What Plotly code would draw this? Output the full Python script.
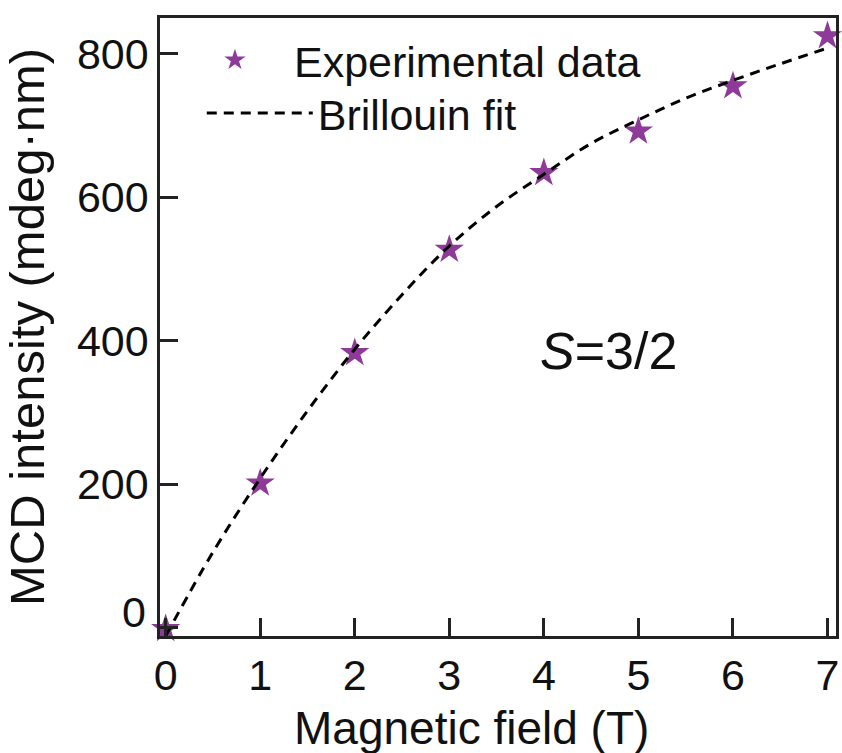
import plotly.graph_objects as go

# Data
field_exp = [0, 1, 2, 3, 4, 5, 6, 7]
mcd_exp = [-2, 201, 383, 527, 634, 692, 755, 825]

field_fit = [0, 0.5, 1, 1.5, 2, 2.5, 3, 3.5, 4, 4.5, 5, 5.5, 6, 6.5, 7]
mcd_fit = [-12, 105, 208, 302, 388, 464, 532, 587, 632, 675, 708, 738, 763, 786, 808]

x_ticks = [0, 1, 2, 3, 4, 5, 6, 7]
y_ticks = [0, 200, 400, 600, 800]
y_ticktext = ["", "200", "400", "600", "800"]

FONT = "Liberation Sans, Arial, sans-serif"
PURPLE = "#8E3A98"

fig = go.Figure()
fig.add_trace(go.Scatter(
    x=field_exp, y=mcd_exp, mode="markers", name="Experimental data",
    marker=dict(symbol="star", size=22, color=PURPLE, line=dict(width=0)),
    cliponaxis=False, legend="legend",
))
fig.add_trace(go.Scatter(
    x=field_fit, y=mcd_fit, mode="lines", name="Brillouin fit",
    line=dict(color="black", width=3, dash="10px,7px", shape="spline"),
    legend="legend2",
))

axis_common = dict(
    showline=True, linecolor="#222", linewidth=2.5, mirror=True,
    ticks="inside", ticklen=18, tickwidth=2.5, tickcolor="#222",
    showgrid=False, zeroline=False,
    tickfont=dict(family=FONT, size=43, color="#111"),
)

legend_font = dict(family=FONT, size=43, color="#111")

fig.update_layout(
    width=842, height=753,
    margin=dict(l=160, r=3, t=18, b=117),
    paper_bgcolor="white", plot_bgcolor="white",
    font=dict(family=FONT, color="#111"),
    xaxis=dict(range=[-0.06, 7.09], tickvals=x_ticks, **axis_common),
    yaxis=dict(range=[-12, 850], tickvals=y_ticks, ticktext=y_ticktext,
               title=dict(text="MCD intensity (mdeg·nm)", font=dict(family=FONT, size=49), standoff=18),
               **axis_common),
    legend=dict(x=0.0236, y=0.932, xanchor="left", yanchor="middle",
                font=legend_font, bgcolor="rgba(0,0,0,0)", itemwidth=108),
    legend2=dict(x=0.0618, y=0.846, xanchor="left", yanchor="middle",
                 font=legend_font, bgcolor="rgba(0,0,0,0)", itemwidth=106),
    showlegend=True,
    annotations=[
        dict(x=4.68, y=386, xref="x", yref="y", showarrow=False,
             text="<i>S</i>=3/2", font=dict(family=FONT, size=52, color="#111")),
        dict(x=0, y=0, xref="paper", yref="y", xanchor="right", yanchor="middle",
             xshift=-12, yshift=15, showarrow=False,
             text="0", font=dict(family=FONT, size=43, color="#111")),
        dict(x=0.461, y=0, xref="paper", yref="paper", xanchor="center", yanchor="middle",
             yshift=-92, showarrow=False,
             text="Magnetic field (T)", font=dict(family=FONT, size=46, color="#111")),
    ],
)

fig.write_html("out.html")
